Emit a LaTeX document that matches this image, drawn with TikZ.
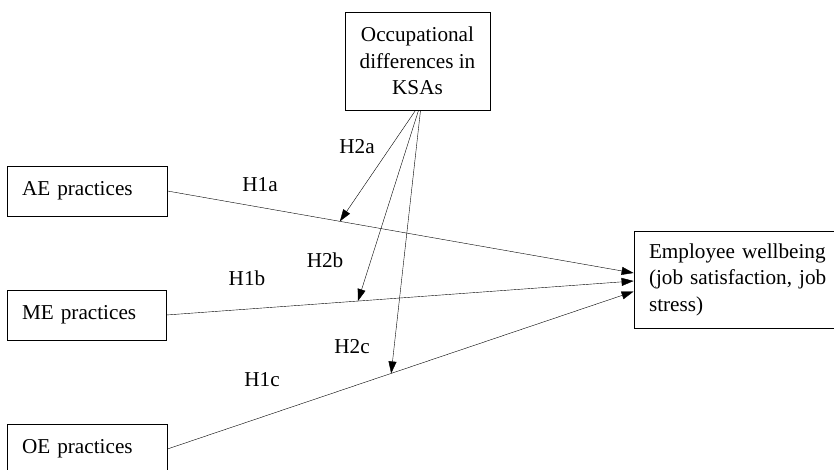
\documentclass[tikz,border=0pt]{standalone}
\usepackage{fontspec}
\setmainfont{Liberation Serif}
\usetikzlibrary{arrows.meta}

\begin{document}
\begin{tikzpicture}[x=1pt, y=-1pt,
    every node/.style={font=\fontsize{21.2}{26.5}\selectfont},
    box/.style={draw, thick, rectangle, inner xsep=15pt, align=left},
    link/.style={thin, -{Triangle[length=12pt, width=8pt]}}]
        \useasboundingbox (0,0) rectangle (834,470);
        \clip (0,0) rectangle (834,470);

        % Draw the boxes
        \node[box, align=center, inner xsep=13pt, minimum width=145, minimum height=98] (ksa) at (417.5,61) {Occupational\\differences in\\KSAs};
        \node[box, text width=130, minimum height=50] (ae) at (87,191) {AE practices};
        \node[box, text width=129, minimum height=50] (me) at (86.5,315) {ME practices};
        \node[box, text width=130, minimum height=50] (oe) at (87,449) {OE practices};
        \node[box, text width=180, minimum height=97] (emp) at (739,279.5) {Employee wellbeing\\(job satisfaction, job\\stress)};

        % Direct effects
        \draw[link] (ae.east) -- ([yshift=6.5]emp.west) coordinate[pos=0.37] (ma);
        \draw[link] (me.east) -- ([yshift=-1.5]emp.west) coordinate[pos=0.41] (mb);
        \draw[link] (oe.east) -- ([yshift=-12]emp.west) coordinate[pos=0.48] (mc);

        % Moderating effects
        \draw[link] ([xshift=-2]ksa.south) -- (ma);
        \draw[link] ([xshift=1]ksa.south) -- (mb);
        \draw[link] ([xshift=3]ksa.south) -- (mc);

        % Hypotheses
        \node (h1a) at (260,185) {H1a};
        \node (h1b) at (247,278) {H1b};
        \node (h1c) at (262,380) {H1c};
        \node (h2a) at (357,147) {H2a};
        \node (h2b) at (325,260) {H2b};
        \node (h2c) at (352,347) {H2c};
    \end{tikzpicture}
\end{document}
